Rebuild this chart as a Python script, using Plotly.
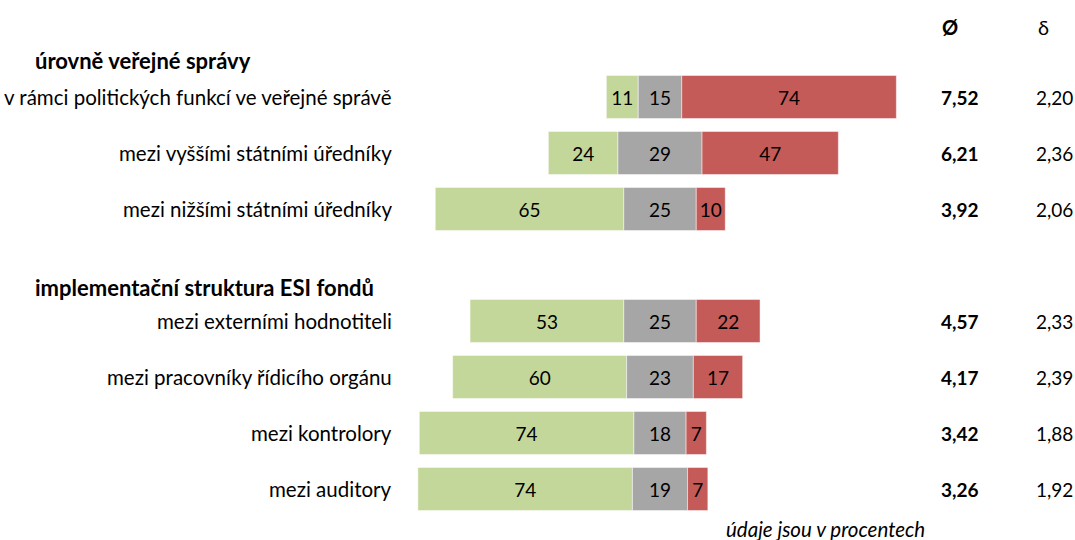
import plotly.graph_objects as go

categories = [
    "v rámci politických funkcí ve veřejné správě",
    "mezi vyššími státními úředníky",
    "mezi nižšími státními úředníky",
    "mezi externími hodnotiteli",
    "mezi pracovníky řídicího orgánu",
    "mezi kontrolory",
    "mezi auditory",
]
low = [11, 24, 65, 53, 60, 74, 74]        # green
middle = [15, 29, 25, 25, 23, 18, 19]     # grey
high = [74, 47, 10, 22, 17, 7, 7]         # red
mean = [7.52, 6.21, 3.92, 4.57, 4.17, 3.42, 3.26]
sd = [2.20, 2.36, 2.06, 2.33, 2.39, 1.88, 1.92]
group_titles = ["úrovně veřejné správy", "implementační struktura ESI fondů"]

rows = [0, 1, 2, 4, 5, 6, 7]

GREEN = "#C4D79B"
GREY = "#A6A6A6"
RED = "#C55B58"
FONT = "Lato"
FS_LABEL = 20.5
FS_NUM = 19

W, H = 1075, 540

def px(X):
    return X / W

px_per_unit = 2.9
center_px = 660
x0 = -center_px / px_per_unit
x1 = x0 + W / px_per_unit
row_px = 56
top = -97 / row_px
bottom = top + H / row_px

def ry(Y):
    return top + Y / row_px

base_low = [-(m / 2 + l) for l, m in zip(low, middle)]
base_mid = [-m / 2 for m in middle]
base_high = [m / 2 for m in middle]

fig = go.Figure()
for vals, bases, col in [(low, base_low, GREEN), (middle, base_mid, GREY), (high, base_high, RED)]:
    fig.add_trace(go.Bar(
        y=rows, x=vals, base=bases, orientation="h", width=0.77,
        marker=dict(color=col, line=dict(color="rgba(255,255,255,0.6)", width=0.8)),
        text=[str(v) for v in vals], textposition="inside", insidetextanchor="middle",
        textangle=0, constraintext="none",
        textfont=dict(family=FONT, size=FS_NUM, color="black"),
        showlegend=False, hoverinfo="skip",
    ))

ann = []
for cat, r in zip(categories, rows):
    ann.append(dict(x=px(394), y=r, xref="paper", yref="y", text=cat, showarrow=False,
                    xanchor="right", yanchor="middle", font=dict(family=FONT, size=FS_LABEL, color="black")))
for m, s, r in zip(mean, sd, rows):
    ann.append(dict(x=px(960), y=r, xref="paper", yref="y", text="<b>" + f"{m:.2f}".replace(".", ",") + "</b>",
                    showarrow=False, xanchor="center", yanchor="middle",
                    font=dict(family=FONT, size=FS_NUM, color="black")))
    ann.append(dict(x=px(1054), y=r, xref="paper", yref="y", text=f"{s:.2f}".replace(".", ","),
                    showarrow=False, xanchor="center", yanchor="middle",
                    font=dict(family=FONT, size=FS_NUM, color="black")))
for t, Y in zip(group_titles, [60, 287]):
    ann.append(dict(x=px(33), y=ry(Y), xref="paper", yref="y", text="<b>" + t + "</b>", showarrow=False,
                    xanchor="left", yanchor="middle", font=dict(family=FONT, size=22, color="black")))
ann.append(dict(x=px(950), y=ry(27), xref="paper", yref="y", text="<b>Ø</b>", showarrow=False,
                xanchor="center", yanchor="middle", font=dict(family=FONT, size=20, color="black")))
ann.append(dict(x=px(1043), y=ry(27), xref="paper", yref="y", text="δ", showarrow=False,
                xanchor="center", yanchor="middle", font=dict(family=FONT, size=20, color="black")))
ann.append(dict(x=px(927), y=ry(529), xref="paper", yref="y", yanchor="middle",
                text="<i>údaje jsou v procentech</i>",
                showarrow=False, xanchor="right", font=dict(family=FONT, size=20.5, color="black")))

fig.update_layout(
    width=W, height=H,
    margin=dict(l=0, r=0, t=0, b=0),
    paper_bgcolor="white", plot_bgcolor="white",
    barmode="overlay",
    xaxis=dict(range=[x0, x1], visible=False, fixedrange=True),
    yaxis=dict(range=[bottom, top], visible=False, fixedrange=True),
    annotations=ann,
    font=dict(family=FONT),
)
fig.write_html("out.html", config={"displayModeBar": False},
               post_script="document.body.style.margin='0';document.body.style.overflow='hidden';")
